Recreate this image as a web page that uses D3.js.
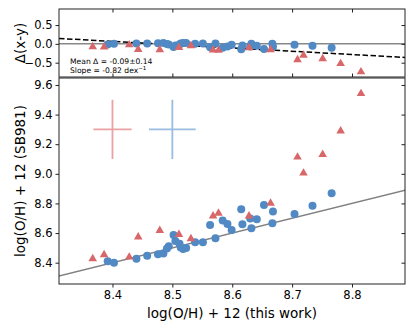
<!DOCTYPE html>
<html>
<head>
<meta charset="utf-8">
<script src="https://cdn.jsdelivr.net/npm/d3@7"></script>
<style>
  body { margin: 0; background: #fff; }
  svg text { font-family: 'DejaVu Sans', sans-serif; fill: #000; }
</style>
</head>
<body>
<div id="chart"></div>
<script>
// blue circles: x = this work, y = SB981
let blueX = [8.392, 8.4025, 8.440, 8.458, 8.476, 8.485, 8.491, 8.494, 8.502, 8.505, 8.512,
	8.514, 8.518, 8.523, 8.538, 8.551, 8.563, 8.572, 8.584, 8.592, 8.599, 8.615,
	8.617, 8.630, 8.632, 8.641, 8.653, 8.668, 8.667, 8.704, 8.734, 8.766]
let blueY = [8.409, 8.400, 8.427, 8.447, 8.457, 8.462, 8.495, 8.511, 8.587, 8.547, 8.528,
	8.503, 8.493, 8.499, 8.538, 8.538, 8.655, 8.565, 8.684, 8.661, 8.621, 8.761,
	8.659, 8.699, 8.632, 8.693, 8.790, 8.745, 8.666, 8.729, 8.785, 8.868]

// red triangles
let redX = [8.367, 8.386, 8.428, 8.443, 8.479, 8.511, 8.531, 8.568, 8.577, 8.628, 8.664,
	8.709, 8.719, 8.751, 8.781, 8.815]
let redY = [8.430, 8.457, 8.441, 8.577, 8.621, 8.594, 8.565, 8.719, 8.737, 8.719, 8.805,
	9.116, 9.008, 9.134, 9.292, 9.545]

// typical error bars drawn as crosses
let errCenters = [{ x: 8.4, y: 9.3, xe: 0.032, ye: 0.2, c: '#e9a2a4' },
	{ x: 8.5, y: 9.3, xe: 0.039, ye: 0.2, c: '#98bde0' }]

// dashed fit line in the residual panel (end points)
let fitX = [8.3107, 8.8885]
let fitY = [0.144, -0.36]

let xTicks = [8.4, 8.5, 8.6, 8.7, 8.8]
let yTicks = [8.4, 8.6, 8.8, 9.0, 9.2, 9.4, 9.6]
let dTicks = [-0.5, 0.0, 0.5]

let W = 415, H = 327
let left = 59, right = 405
let topT = 9, topB = 77, botT = 78, botB = 284

let svg = d3.select('#chart').append('svg')
	.attr('width', W).attr('height', H)

let x = d3.scaleLinear().domain([8.3107, 8.8885]).range([left, right])
let yD = d3.scaleLinear().domain([-0.88, 0.926]).range([topB, topT])
let y = d3.scaleLinear().domain([8.256, 9.647]).range([botB, botT])

let blueCol = '#5089c3'
let redCol = '#d8676a'

svg.append('clipPath').attr('id', 'clipTop').append('rect')
	.attr('x', left).attr('y', topT).attr('width', right - left).attr('height', topB - topT)
svg.append('clipPath').attr('id', 'clipBot').append('rect')
	.attr('x', left).attr('y', botT).attr('width', right - left).attr('height', botB - botT)

let fmtMinus = d => d3.format('.1f')(d).replace('-', '\u2212')

// ---------- top panel (residuals) ----------
let gTop = svg.append('g')
let pTop = gTop.append('g').attr('clip-path', 'url(#clipTop)')

pTop.append('line')
	.attr('x1', left).attr('x2', right)
	.attr('y1', yD(0)).attr('y2', yD(0))
	.attr('stroke', '#888').attr('stroke-width', 1.5)

pTop.append('line')
	.attr('x1', x(fitX[0])).attr('x2', x(fitX[1]))
	.attr('y1', yD(fitY[0])).attr('y2', yD(fitY[1]))
	.attr('stroke', '#000').attr('stroke-width', 1.5)
	.attr('stroke-dasharray', '5.5,2.5')

let blue = blueX.map((v, i) => ({ x: v, y: blueY[i] }))
let red = redX.map((v, i) => ({ x: v, y: redY[i] }))

let tri = d3.symbol().type(d3.symbolTriangle).size(32)

pTop.selectAll('.bd').data(blue).enter().append('circle')
	.attr('cx', d => x(d.x)).attr('cy', d => yD(d.x - d.y))
	.attr('r', 4).attr('fill', blueCol)
pTop.selectAll('.rd').data(red).enter().append('path')
	.attr('d', tri)
	.attr('transform', d => `translate(${x(d.x)},${yD(d.x - d.y) + 0.5})`)
	.attr('fill', redCol)

// ticks of the top panel
gTop.append('g').attr('transform', `translate(${left},0)`)
	.call(d3.axisLeft(yD).tickValues(dTicks).tickSize(3.5).tickPadding(3).tickFormat(fmtMinus))
gTop.append('g').attr('transform', `translate(${right},0)`)
	.call(d3.axisLeft(yD).tickValues(dTicks).tickSize(3.5).tickFormat(''))
gTop.append('g').attr('transform', `translate(0,${topT})`)
	.call(d3.axisBottom(x).tickValues(xTicks).tickSize(3.5).tickFormat(''))
gTop.append('g').attr('transform', `translate(0,${topB})`)
	.call(d3.axisTop(x).tickValues(xTicks).tickSize(3.5).tickFormat(''))

gTop.append('rect')
	.attr('x', left).attr('y', topT).attr('width', right - left).attr('height', topB - topT)
	.attr('fill', 'none').attr('stroke', '#222').attr('stroke-width', 1)

gTop.append('text')
	.attr('transform', `translate(24.5,${(topT + topB) / 2}) rotate(-90)`)
	.attr('text-anchor', 'middle')
	.attr('font-size', 13.5)
	.text('\u0394(x-y)')

gTop.append('text').attr('x', 70).attr('y', 63.5).attr('font-size', 7.6)
	.text('Mean \u0394 = -0.09\u00b10.14')
let sl = gTop.append('text').attr('x', 70).attr('y', 73).attr('font-size', 7.6)
sl.append('tspan').text('Slope = -0.82 dex')
sl.append('tspan').attr('dy', -3).attr('font-size', 5.5).text('\u22121')

// ---------- bottom panel ----------
let gBot = svg.append('g')
let pBot = gBot.append('g').attr('clip-path', 'url(#clipBot)')

// 1:1 line
pBot.append('line')
	.attr('x1', x(8.25)).attr('y1', y(8.25))
	.attr('x2', x(9.0)).attr('y2', y(9.0))
	.attr('stroke', '#808080').attr('stroke-width', 1.5)

errCenters.forEach(e => {
	pBot.append('line')
		.attr('x1', x(e.x - e.xe)).attr('x2', x(e.x + e.xe))
		.attr('y1', y(e.y)).attr('y2', y(e.y))
		.attr('stroke', e.c).attr('stroke-width', 1.8)
	pBot.append('line')
		.attr('x1', x(e.x)).attr('x2', x(e.x))
		.attr('y1', y(e.y - e.ye)).attr('y2', y(e.y + e.ye))
		.attr('stroke', e.c).attr('stroke-width', 1.8)
})

pBot.selectAll('.bb').data(blue).enter().append('circle')
	.attr('cx', d => x(d.x)).attr('cy', d => y(d.y))
	.attr('r', 4).attr('fill', blueCol)
pBot.selectAll('.rb').data(red).enter().append('path')
	.attr('d', tri)
	.attr('transform', d => `translate(${x(d.x)},${y(d.y) + 0.5})`)
	.attr('fill', redCol)

gBot.append('g').attr('transform', `translate(${left},0)`)
	.call(d3.axisLeft(y).tickValues(yTicks).tickSize(3.5).tickPadding(3).tickFormat(d3.format('.1f')))
gBot.append('g').attr('transform', `translate(${right},0)`)
	.call(d3.axisLeft(y).tickValues(yTicks).tickSize(3.5).tickFormat(''))
gBot.append('g').attr('transform', `translate(0,${botB})`)
	.call(d3.axisBottom(x).tickValues(xTicks).tickSize(3.5).tickPadding(3).tickFormat(d3.format('.1f')))

gBot.append('rect')
	.attr('x', left).attr('y', botT).attr('width', right - left).attr('height', botB - botT)
	.attr('fill', 'none').attr('stroke', '#222').attr('stroke-width', 1)

gBot.append('text')
	.attr('transform', `translate(24.5,${(botT + botB) / 2}) rotate(-90)`)
	.attr('text-anchor', 'middle')
	.attr('font-size', 13.5)
	.text('log(O/H) + 12 (SB981)')

gBot.append('text')
	.attr('x', (left + right) / 2).attr('y', 318)
	.attr('text-anchor', 'middle')
	.attr('font-size', 13.5)
	.text('log(O/H) + 12 (this work)')

// axis styling
svg.selectAll('.domain').remove()
svg.selectAll('.tick line').attr('stroke', '#222')
svg.selectAll('.tick text').attr('font-size', 11.5).attr('fill', '#000')
	.attr('font-family', "'DejaVu Sans', sans-serif")
</script>
</body>
</html>
